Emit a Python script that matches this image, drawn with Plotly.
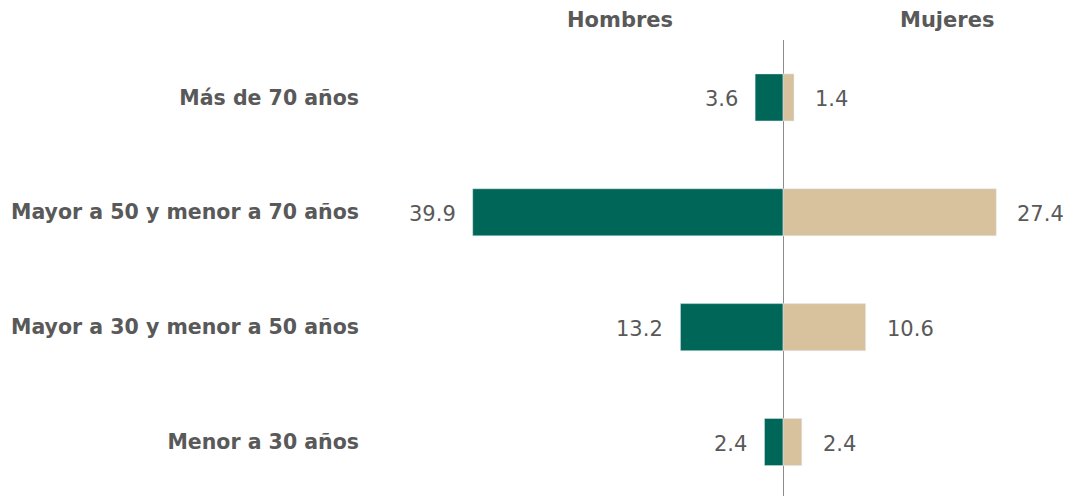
import plotly.graph_objects as go

categorias = ["Menor a 30 años", "Mayor a 30 y menor a 50 años",
              "Mayor a 50 y menor a 70 años", "Más de 70 años"]
hombres = [2.4, 13.2, 39.9, 3.6]
mujeres = [2.4, 10.6, 27.4, 1.4]

verde = "#006657"
arena = "#D7C29D"
gris = "#595959"
fuente = "DejaVu Sans"

fig = go.Figure()
fig.add_trace(go.Bar(y=categorias, x=[-v for v in hombres], orientation="h",
                     marker_color=verde, width=0.41, name="Hombres"))
fig.add_trace(go.Bar(y=categorias, x=mujeres, orientation="h",
                     marker_color=arena, width=0.41, name="Mujeres"))

# etiquetas de valores
for c, h, m in zip(categorias, hombres, mujeres):
    fig.add_annotation(x=-h, y=c, text=f"{h:.1f}", showarrow=False,
                       xanchor="right", xshift=-15, yshift=-2,
                       font=dict(size=21, color=gris, family=fuente))
    fig.add_annotation(x=m, y=c, text=f"{m:.1f}", showarrow=False,
                       xanchor="left", xshift=19, yshift=-2,
                       font=dict(size=21, color=gris, family=fuente))

fig.add_annotation(x=-21, y=1, yref="paper", yanchor="bottom", yshift=6,
                   text="<b>Hombres</b>", showarrow=False,
                   font=dict(size=21, color=gris, family=fuente))
fig.add_annotation(x=21, y=1, yref="paper", yanchor="bottom", yshift=6,
                   text="<b>Mujeres</b>", showarrow=False,
                   font=dict(size=21, color=gris, family=fuente))

fig.update_layout(
    width=1070, height=488, barmode="overlay", showlegend=False,
    plot_bgcolor="white", paper_bgcolor="white",
    margin=dict(l=362, r=0, t=32, b=0),
    font=dict(family=fuente, color=gris),
)
fig.update_xaxes(range=[-53.1, 37.9], showgrid=False, showticklabels=False,
                 zeroline=True, zerolinecolor="#8c8c8c", zerolinewidth=1)
fig.update_yaxes(range=[-0.47, 3.5], showgrid=False, ticklabelstandoff=10,
                 tickfont=dict(size=20.5, color=gris, family=fuente, weight="bold"))

fig.write_html("out.html")
